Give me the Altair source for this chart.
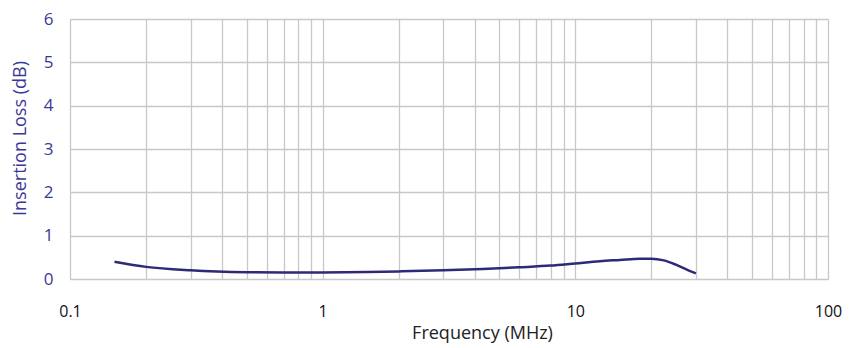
import altair as alt
import pandas as pd

freq = [0.15, 0.2, 0.3, 0.5, 0.7, 1.0, 1.5, 2.0, 3.0, 4.3, 6.0, 8.0, 10.0, 12.5, 15.0, 18.0, 20.0, 22.4, 25.0, 28.0, 30.0]
loss = [0.40, 0.28, 0.20, 0.155, 0.148, 0.15, 0.16, 0.175, 0.20, 0.23, 0.27, 0.31, 0.36, 0.41, 0.44, 0.47, 0.47, 0.43, 0.33, 0.20, 0.13]

x_grid = [m * 10.0 ** e for e in (-1, 0, 1) for m in range(1, 10)] + [100.0]
y_ticks = [0, 1, 2, 3, 4, 5, 6]

df = pd.DataFrame({"f": freq, "il": loss})

FONT = "Open Sans"
BLUE = "#3a3896"

chart = alt.Chart(df).mark_line(
    color="#2d2a78", strokeWidth=2.5, interpolate="monotone"
).encode(
    x=alt.X("f:Q",
            scale=alt.Scale(type="log", domain=[0.1, 100], nice=False),
            axis=alt.Axis(
                values=x_grid,
                labelExpr="abs(log(datum.value)/log(10) - round(log(datum.value)/log(10))) < 0.001 ? format(datum.value, '~g') : ''",
                labelOverlap=False,
                labelFlush=False,
                ticks=False,
                domain=False,
                grid=True,
                gridColor="#c8c8c8",
                gridWidth=1.3,
                labelPadding=24,
                labelFontSize=16,
                labelColor="#111111",
                labelFont=FONT,
                title="Frequency (MHz)",
                titleFont=FONT,
                titleFontSize=18,
                titleFontWeight="normal",
                titleColor="#222222",
                titlePadding=5,
                titleX=412,
            )),
    y=alt.Y("il:Q",
            scale=alt.Scale(domain=[0, 6], nice=False),
            axis=alt.Axis(
                values=y_ticks,
                ticks=False,
                domain=False,
                grid=True,
                gridColor="#c8c8c8",
                gridWidth=1.3,
                labelPadding=17,
                labelFontSize=17,
                labelColor=BLUE,
                labelFont=FONT,
                labelFlush=False,
                title="Insertion Loss (dB)",
                titleFont=FONT,
                titleFontSize=18,
                titleFontWeight="normal",
                titleColor=BLUE,
                titlePadding=14,
                titleY=119,
            )),
).properties(
    width=758,
    height=260,
    autosize=alt.AutoSizeParams(type="none"),
    padding={"left": 70, "top": 19, "right": 28, "bottom": 69},
).configure_view(
    stroke="#555555", strokeWidth=1.5
).configure(background="white")

chart.save("out.html", embed_options={"renderer": "svg", "actions": False})
